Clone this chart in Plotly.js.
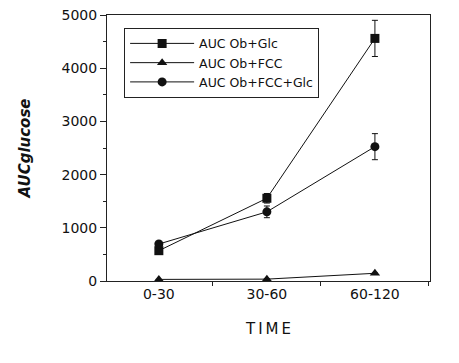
<!DOCTYPE html>
<html>
<head>
<meta charset="utf-8">
<script src="https://cdn.plot.ly/plotly-3.0.1.min.js"></script>
<style>html,body{margin:0;padding:0;background:#fff;}#chart{width:459px;height:363px;}</style>
</head>
<body>
<div id="chart"></div>
<script>
const categories = ['0-30', '30-60', '60-120'];
const seriesNames = ['AUC Ob+Glc', 'AUC Ob+FCC', 'AUC Ob+FCC+Glc'];
const obGlc = [570, 1555, 4560];
const obGlcErr = [40, 90, 340];
const obFcc = [30, 35, 145];
const obFccErr = [0, 0, 0];
const obFccGlc = [695, 1300, 2525];
const obFccGlcErr = [40, 110, 245];
const yTickVals = [0, 1000, 2000, 3000, 4000, 5000];

const font = {family: 'DejaVu Sans, sans-serif', size: 13, color: '#111'};
function mk(name, y, err, symbol, size) {
  return {
    type: 'scatter', mode: 'lines+markers', name: name,
    x: categories, y: y,
    line: {color: '#111', width: 1},
    marker: {symbol: symbol, size: size, color: '#111'},
    error_y: {type: 'data', array: err, visible: true, color: '#111', thickness: 1, width: 3}
  };
}
const data = [
  mk(seriesNames[0], obGlc, obGlcErr, 'square', 9),
  mk(seriesNames[1], obFcc, obFccErr, 'triangle-up', 9),
  mk(seriesNames[2], obFccGlc, obFccGlcErr, 'circle', 9)
];
const layout = {
  width: 459, height: 363,
  margin: {l: 107, r: 29, t: 15, b: 82},
  paper_bgcolor: '#fff', plot_bgcolor: '#fff',
  font: font,
  showlegend: true,
  legend: {x: 0.053, y: 0.952, xanchor: 'left', yanchor: 'top', bordercolor: '#222', borderwidth: 1,
    bgcolor: '#fff', font: {family: 'DejaVu Sans, sans-serif', size: 12.5, color: '#111'},
    itemwidth: 64, tracegroupgap: 0},
  xaxis: {
    type: 'category', range: [-0.48, 2.51],
    showline: true, mirror: true, linecolor: '#222', linewidth: 1,
    ticks: 'outside', tickson: 'boundaries', ticklen: 4, tickcolor: '#222',
    showgrid: false, zeroline: false,
    tickfont: {family: 'DejaVu Sans, sans-serif', size: 14, color: '#111'},
    title: {text: 'T\u2009I\u2009M\u2009E', standoff: 22, font: {family: 'DejaVu Sans, sans-serif', size: 15, color: '#111'}}
  },
  yaxis: {
    range: [0, 5000], tickvals: yTickVals, ticktext: yTickVals.map(String),
    showline: true, mirror: true, linecolor: '#222', linewidth: 1,
    ticks: 'outside', ticklen: 6, tickcolor: '#222',
    minor: {dtick: 500, tick0: 0, ticks: 'outside', ticklen: 3, tickcolor: '#222', showgrid: false},
    showgrid: false, zeroline: false,
    tickfont: {family: 'DejaVu Sans, sans-serif', size: 14, color: '#111'},
    title: {text: 'AUCglucose', standoff: 27, font: {family: 'DejaVu Sans, sans-serif', size: 15, color: '#111', style: 'italic', weight: 'bold'}}
  }
};
Plotly.newPlot('chart', data, layout, {staticPlot: true, displayModeBar: false});
</script>
</body>
</html>
